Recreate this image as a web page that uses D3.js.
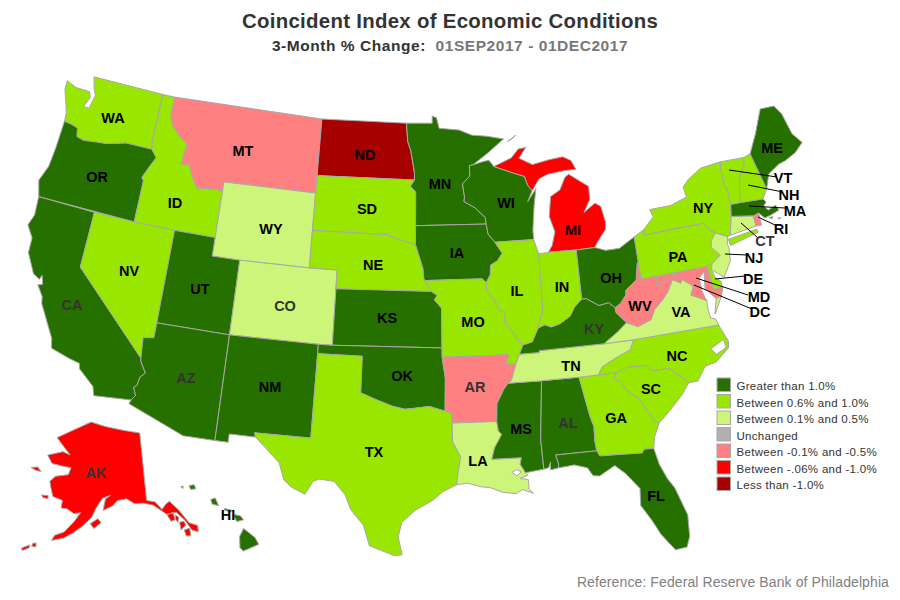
<!DOCTYPE html>
<html>
<head>
<meta charset="utf-8">
<script src="https://cdn.jsdelivr.net/npm/d3@7"></script>
<style>
  body { margin: 0; background: #fff; }
  text { font-family: "Liberation Sans", sans-serif; }
</style>
</head>
<body>
<div id="map"></div>
<script>
// legend bins, top to bottom
const binLabels = ["Greater than 1.0%", "Between 0.6% and 1.0%", "Between 0.1% and 0.5%", "Unchanged",
  "Between -0.1% and -0.5%", "Between -.06% and -1.0%", "Less than -1.0%"];
const binColors = ["#267000", "#99e600", "#ccf57a", "#b0b0b0", "#ff8080", "#ff0000", "#a60000"];

// which bin each state falls in
const binStates = [
  ["OR", "CA", "UT", "AZ", "NM", "KS", "OK", "MN", "IA", "WI", "OH", "KY", "MS", "AL", "FL", "ME", "MA", "HI"],
  ["WA", "ID", "NV", "SD", "NE", "TX", "MO", "IL", "IN", "GA", "SC", "NC", "NY", "PA", "VT", "NH", "DE"],
  ["WY", "CO", "TN", "LA", "VA", "CT", "NJ"],
  [],
  ["MT", "AR", "WV", "MD", "RI", "DC"],
  ["MI", "AK"],
  ["ND"]
];

// shared borders, lon/lat
const stCroix = [[-92.0,46.7],[-92.29,46.66],[-92.29,46.1],[-92.87,45.7],[-92.75,45.0],[-92.8,44.75]];
const missMNWI = [[-92.8,44.75],[-92.0,44.4],[-91.25,43.85],[-91.22,43.5]];
const missIAWI = [[-91.22,43.5],[-91.1,42.95],[-90.64,42.51]];
const missIAIL = [[-90.64,42.51],[-90.15,41.9],[-90.55,41.5],[-91.05,41.3],[-91.1,40.8],[-91.42,40.38]];
const missMOIL = [[-91.42,40.38],[-91.42,39.93],[-90.73,39.25],[-90.65,38.93],[-90.18,38.75],[-90.3,38.2],[-89.9,37.88],[-89.5,37.3],[-89.13,36.98]];
const missMOKY = [[-89.13,36.98],[-89.42,36.5]];
const missMOTN = [[-89.42,36.5],[-89.7,36.0]];
const missARTN = [[-89.7,36.0],[-90.07,35.13],[-90.3,35.0]];
const missARMS = [[-90.3,35.0],[-90.6,34.7],[-91.1,33.95],[-91.17,33.0]];
const missLAMS = [[-91.17,33.0],[-91.1,32.5],[-90.9,32.3],[-91.4,31.6],[-91.6,31.0]];
const ohioILKY = [[-89.13,36.98],[-88.5,37.1],[-88.03,37.8]];
const ohioINKY = [[-88.03,37.8],[-87.55,37.95],[-87.1,37.8],[-86.5,37.93],[-85.75,38.27],[-85.4,38.72],[-84.82,39.1]];
const ohioOHKY = [[-84.82,39.1],[-84.5,39.1],[-83.7,38.65],[-83.0,38.73],[-82.6,38.42]];
const ohioOHWV = [[-82.6,38.42],[-82.2,38.6],[-81.75,39.0],[-81.7,39.25],[-80.87,39.7],[-80.6,40.6],[-80.52,40.64]];
const wabash = [[-87.53,39.35],[-87.6,38.7],[-87.95,38.0],[-88.03,37.8]];
const columbia = [[-116.92,45.99],[-118.98,46.0],[-119.3,45.93],[-120.5,45.7],[-121.2,45.65],[-122.2,45.55],[-122.75,45.65],[-122.9,46.1],[-123.4,46.2],[-124.0,46.25]];
const snake = [[-116.92,45.99],[-116.46,45.6],[-116.85,45.0],[-117.2,44.4],[-117.03,44.25],[-117.03,42.0]];
const bitterroot = [[-116.05,49.0],[-116.05,48.0],[-115.7,47.45],[-114.9,46.9],[-114.35,46.65],[-114.5,45.55],[-113.9,45.6],[-113.45,44.95],[-113.0,44.45],[-111.5,44.55],[-111.05,44.48]];
const colorado = [[-114.63,35.0],[-114.57,34.8],[-114.15,34.27],[-114.45,34.0],[-114.53,33.55],[-114.72,33.4],[-114.5,33.0],[-114.72,32.72]];
const redRiver = [[-100.0,34.56],[-98.9,34.2],[-97.9,33.9],[-97.1,33.75],[-96.5,33.8],[-95.5,33.9],[-94.48,33.64]];
const missouriNEIA = [[-96.45,42.49],[-96.1,41.7],[-95.9,41.2],[-95.85,40.7],[-95.77,40.58]];
const missouriKSMO = [[-95.31,40.0],[-94.9,39.8],[-95.1,39.55],[-94.61,39.11]];
const redNorth = [[-97.23,49.0],[-97.1,48.0],[-96.85,47.5],[-96.55,46.3],[-96.56,45.94]];
const minnSD = [[-96.56,45.94],[-96.85,45.6],[-96.45,45.3],[-96.45,43.5]];
const sabine = [[-94.04,32.0],[-93.55,31.2],[-93.7,30.5],[-93.85,29.7]];
const chattahoochee = [[-85.6,35.0],[-85.18,32.87],[-85.0,32.3],[-85.05,31.55],[-85.0,31.0]];
const savannah = [[-83.1,35.0],[-83.35,34.7],[-82.9,34.48],[-82.6,34.0],[-81.95,33.5],[-81.4,32.6],[-81.1,32.1],[-80.85,32.03]];
const ncsc = [[-83.1,35.0],[-82.4,35.2],[-81.05,35.15],[-80.8,34.82],[-79.67,34.8],[-78.55,33.86]];
const ncTN = [[-81.68,36.59],[-82.0,36.1],[-83.1,35.75],[-84.0,35.4],[-84.32,35.0]];
const kyVA = [[-81.97,37.54],[-82.7,37.1],[-83.68,36.6]];
const wvVA = [[-81.97,37.54],[-81.25,37.25],[-80.3,37.5],[-79.95,38.0],[-79.3,38.42],[-78.87,38.77],[-78.35,39.4],[-77.83,39.13],[-77.72,39.32]];
const potomac = [[-77.72,39.32],[-77.12,38.93],[-77.04,38.8],[-77.3,38.4],[-76.95,38.25],[-76.3,37.95]];
const wvMD = [[-79.48,39.72],[-79.48,39.2],[-78.4,39.6],[-78.2,39.68],[-77.72,39.32]];
const delaware = [[-74.7,41.36],[-75.13,40.98],[-75.2,40.65],[-74.72,40.15],[-75.41,39.8]];
// New England, it sits a little east of true position there
const vtNH = [[-71.35,44.9],[-71.45,44.5],[-71.9,44.1],[-72.15,43.6],[-72.45,42.62]];
const nyVT = [[-73.15,44.98],[-73.25,44.4],[-73.3,43.6],[-73.12,43.55],[-73.14,42.65]];
const meNH = [[-70.8,45.0],[-70.3,42.96]];
const miWI = [[-90.4,46.55],[-89.0,46.15],[-88.1,45.9],[-87.9,45.4],[-87.6,45.1]];

const rev = a => a.slice().reverse();

// state outlines, lon/lat
const outlines = {
  WA: [[[-122.76,49.0],[-117.03,49.0],[-117.04,46.42],...columbia,[-124.05,46.7],[-124.2,47.0],[-124.7,47.9],[-124.73,48.38],[-123.9,48.17],[-123.1,48.17],[-122.75,48.15],[-122.6,47.85],[-122.9,47.3],[-122.45,47.3],[-122.35,47.7],[-122.25,48.05],[-122.5,48.4]]],
  OR: [[...snake,[-124.2,42.0],[-124.55,42.84],[-124.15,43.7],[-124.05,44.7],...rev(columbia).slice(0,-1)]],
  CA: [[[-124.2,42.0],[-120.0,42.0],[-120.0,39.0],...colorado,[-117.12,32.53],[-117.3,33.0],[-118.4,33.75],[-118.5,34.03],[-119.2,34.15],[-120.5,34.45],[-120.65,34.95],[-121.9,36.6],[-122.0,36.96],[-122.5,37.5],[-122.2,37.6],[-122.4,38.05],[-122.5,37.8],[-123.0,38.0],[-123.75,39.0],[-123.8,39.8],[-124.35,40.4],[-124.1,41.0]]],
  NV: [[[-120.0,42.0],[-117.03,42.0],[-114.04,42.0],[-114.04,37.0],[-114.04,36.2],[-114.75,36.1],[-114.63,35.0],[-120.0,39.0]]],
  ID: [[[-117.03,49.0],...bitterroot,[-111.05,42.0],[-114.04,42.0],...rev(snake),[-117.04,46.42]]],
  MT: [[...bitterroot,[-111.05,45.0],[-104.05,45.0],[-104.05,45.94],[-104.05,49.0]]],
  WY: [[[-111.05,45.0],[-104.05,45.0],[-104.05,43.0],[-104.05,41.0],[-109.05,41.0],[-111.05,41.0],[-111.05,42.0],[-111.05,44.48]]],
  UT: [[[-114.04,42.0],[-111.05,42.0],[-111.05,41.0],[-109.05,41.0],[-109.05,37.0],[-114.04,37.0]]],
  AZ: [[[-114.04,37.0],[-109.05,37.0],[-109.05,31.33],[-111.07,31.33],[-114.81,32.5],...rev(colorado),[-114.75,36.1],[-114.04,36.2]]],
  CO: [[[-109.05,41.0],[-104.05,41.0],[-102.05,41.0],[-102.05,40.0],[-102.05,37.0],[-103.0,37.0],[-109.05,37.0]]],
  NM: [[[-109.05,37.0],[-103.0,37.0],[-103.0,36.5],[-103.04,32.0],[-106.62,32.0],[-106.53,31.78],[-108.21,31.78],[-108.21,31.33],[-109.05,31.33]]],
  ND: [[[-104.05,49.0],...redNorth,[-104.05,45.94]]],
  SD: [[[-104.05,45.94],...minnSD,[-96.45,42.49],[-97.9,42.8],[-98.5,43.0],[-104.05,43.0]]],
  NE: [[[-104.05,43.0],[-98.5,43.0],[-97.9,42.8],...missouriNEIA,[-95.31,40.0],[-102.05,40.0],[-102.05,41.0],[-104.05,41.0]]],
  KS: [[[-102.05,40.0],...missouriKSMO,[-94.62,37.0],[-102.05,37.0]]],
  OK: [[[-103.0,37.0],[-102.05,37.0],[-94.62,37.0],[-94.62,36.5],[-94.43,35.4],[-94.48,33.64],...rev(redRiver),[-100.0,36.5],[-103.0,36.5]]],
  TX: [[[-103.0,36.5],[-100.0,36.5],...redRiver,[-94.04,33.55],[-94.04,33.0],...sabine,[-94.7,29.35],[-95.3,28.9],[-96.4,28.35],[-97.2,27.7],[-97.4,26.9],[-97.15,25.96],[-97.6,25.9],[-99.1,26.4],[-99.5,27.5],[-100.3,28.3],[-100.7,29.1],[-101.4,29.77],[-102.35,29.85],[-102.7,29.7],[-103.15,28.98],[-104.0,29.3],[-104.5,29.65],[-104.9,30.55],[-106.53,31.78],[-106.62,32.0],[-103.04,32.0]]],
  MN: [[[-97.23,49.0],[-95.15,49.0],[-95.15,49.38],[-94.8,49.3],[-94.6,48.72],[-93.0,48.6],[-92.0,48.3],[-90.8,48.2],[-89.5,48.0],[-90.8,47.3],...stCroix,...missMNWI,[-96.45,43.5],...rev(minnSD),...rev(redNorth).slice(1)]],
  IA: [[[-96.45,43.5],[-91.22,43.5],...missIAWI,...missIAIL,[-91.7,40.6],...rev(missouriNEIA)]],
  MO: [[[-95.77,40.58],[-91.7,40.6],...missMOIL,...missMOKY,...missMOTN,[-90.37,36.0],[-90.15,36.5],[-94.62,36.5],[-94.62,37.0],...rev(missouriKSMO)]],
  AR: [[[-94.62,36.5],[-90.15,36.5],[-90.37,36.0],...missARTN,...missARMS,[-94.04,33.0],[-94.04,33.55],[-94.48,33.64],[-94.43,35.4]]],
  LA: [[[-94.04,33.0],...missLAMS,[-89.75,31.0],[-89.85,30.65],[-89.55,30.18],[-89.4,30.05],[-89.9,29.9],[-89.4,29.8],[-89.4,29.3],[-89.15,29.05],[-89.8,29.3],[-90.2,29.1],[-91.0,29.2],[-91.8,29.5],[-92.3,29.55],[-93.2,29.78],...rev(sabine)],
       [[-90.4,30.25],[-90.1,30.38],[-89.8,30.25],[-90.1,30.05]]],
  MS: [[...missARMS.slice(0,1),[-88.2,35.0],[-88.1,34.9],[-88.45,31.9],[-88.4,30.3],[-89.55,30.18],[-89.85,30.65],[-89.75,31.0],...rev(missLAMS),...rev(missARMS).slice(1)]],
  AL: [[[-88.2,35.0],...chattahoochee,[-87.6,31.0],[-87.45,30.5],[-87.5,30.3],[-88.0,30.23],[-87.95,30.65],[-88.1,30.35],[-88.4,30.3],[-88.45,31.9],[-88.1,34.9]]],
  GA: [[[-85.6,35.0],[-84.32,35.0],...savannah,[-81.3,31.3],[-81.45,30.72],[-82.05,30.75],[-82.2,30.57],[-84.86,30.71],...rev(chattahoochee).slice(0,-1)]],
  FL: [[[-87.6,31.0],[-85.0,31.0],[-84.86,30.71],[-82.2,30.57],[-82.05,30.75],[-81.45,30.72],[-81.25,29.8],[-80.9,29.0],[-80.55,28.45],[-80.05,26.9],[-80.15,25.75],[-80.4,25.2],[-81.1,25.15],[-81.8,26.1],[-82.2,26.9],[-82.75,27.8],[-82.65,28.7],[-83.4,29.6],[-84.0,30.1],[-85.0,29.65],[-85.4,29.7],[-85.7,30.15],[-86.5,30.38],[-87.5,30.3],[-87.45,30.5]]],
  SC: [[...ncsc,[-79.1,33.3],[-79.9,32.7],[-80.45,32.3],...rev(savannah).slice(0,-1)]],
  NC: [[[-84.32,35.0],[-83.1,35.0],...ncsc.slice(1),[-77.95,33.85],[-77.3,34.55],[-76.55,34.65],[-75.55,35.25],[-75.45,35.6],[-75.87,36.55],...ncTN],
       [[-76.7,35.4],[-75.75,35.75],[-75.7,35.3],[-76.4,35.05]]],
  TN: [[[-90.3,35.0],[-88.2,35.0],[-85.6,35.0],[-84.32,35.0],...rev(ncTN),[-83.68,36.6],[-88.07,36.6],[-88.07,36.5],[-89.42,36.5],...missMOTN.slice(1),...missARTN.slice(1)]],
  KY: [[...ohioILKY,...ohioINKY.slice(1),...ohioOHKY.slice(1),[-82.6,38.17],...kyVA,[-88.07,36.6],[-88.07,36.5],[-89.42,36.5]]],
  VA: [[[-83.68,36.6],...rev(kyVA),...wvVA,...potomac,[-76.35,37.55],[-76.3,37.0],[-75.98,36.9],[-75.87,36.55],[-81.68,36.59]],
       [[-75.95,37.15],[-75.25,38.03],[-75.65,37.95]]],
  WV: [[...ohioOHWV,[-80.52,39.72],...wvMD,...rev(wvVA),[-82.6,38.17]]],
  MD: [[[-79.48,39.72],[-75.79,39.72],[-75.7,38.46],[-75.05,38.45],[-75.25,38.03],[-75.65,37.95],[-75.9,38.2],[-76.25,38.6],[-76.15,39.1],[-76.05,39.5],[-76.5,39.2],[-76.5,38.5],[-76.4,38.15],...rev(potomac),...rev(wvMD).slice(1,-1)]],
  DC: [[[-77.12,38.93],[-77.04,39.0],[-76.91,38.89],[-77.04,38.8]]],
  DE: [[[-75.79,39.72],[-75.41,39.8],[-75.55,39.5],[-75.4,39.05],[-75.08,38.8],[-75.05,38.45],[-75.7,38.46]]],
  PA: [[[-80.52,41.98],[-79.76,42.27],[-79.76,42.0],[-75.35,42.0],[-75.05,41.6],...delaware,[-75.79,39.72],[-79.48,39.72],[-80.52,39.72],[-80.52,40.64]]],
  NJ: [[[-74.7,41.36],[-73.9,41.02],[-74.05,40.65],[-74.0,40.45],[-74.1,39.75],[-74.8,38.95],[-75.1,39.2],[-75.55,39.5],[-75.41,39.8],...rev(delaware).slice(1,-1)]],
  NY: [[[-79.76,42.27],[-78.9,42.85],[-79.05,43.27],[-77.5,43.28],[-76.2,43.55],[-76.3,44.1],[-75.8,44.45],[-74.7,44.9],...nyVT,[-73.32,42.02],[-73.6,41.3],[-73.7,41.05],[-73.9,41.02],[-74.7,41.36],[-75.05,41.6],[-75.35,42.0],[-79.76,42.0]],
       [[-73.9,40.87],[-71.75,41.03],[-71.7,40.86],[-73.85,40.52]]],
  CT: [[[-73.32,42.02],[-71.75,41.76],[-71.75,41.2],[-73.7,41.05],[-73.6,41.3]]],
  RI: [[[-71.75,41.76],[-71.33,41.84],[-71.35,41.18],[-71.75,41.2]]],
  MA: [[[-73.32,42.02],[-73.14,42.65],[-72.45,42.62],[-70.75,42.5],[-70.6,42.3],[-70.84,42.12],[-70.6,41.85],[-70.0,42.0],[-69.85,41.7],[-70.55,41.55],[-71.0,41.5],[-71.33,41.84],[-71.75,41.76]],
       [[-70.7,41.45],[-70.4,41.45],[-70.5,41.35]],[[-70.1,41.3],[-69.87,41.28],[-70.0,41.24]]],
  VT: [[...nyVT.slice(0,1),...vtNH,[-73.14,42.65],...rev(nyVT).slice(1,-1)]],
  NH: [[...meNH,[-70.75,42.5],...rev(vtNH)]],
  ME: [[[-70.8,45.0],[-70.0,45.96],[-69.12,47.17],[-68.04,47.11],[-67.62,46.58],[-67.32,45.41],[-66.78,44.8],[-67.5,44.39],[-68.4,44.13],[-68.95,44.05],[-69.85,43.7],[-70.3,42.96]]],
  MI: [[[-86.82,41.76],[-84.8,41.72],[-83.45,41.73],[-83.15,42.05],[-82.5,42.6],[-82.42,43.0],[-82.6,43.85],[-83.0,44.07],[-83.9,43.65],[-83.35,44.3],[-83.3,45.0],[-84.7,45.78],[-85.0,45.65],[-85.5,45.0],[-86.25,44.7],[-86.5,43.65],[-86.2,42.8],[-86.5,42.1]],
       [...miWI,[-87.0,45.7],[-86.3,45.9],[-85.0,46.0],[-84.1,46.0],[-84.4,46.5],[-85.0,46.75],[-86.1,46.67],[-87.4,46.5],[-88.4,46.9],[-87.8,47.45],[-88.4,47.4],[-89.0,46.95]],
       [[-89.2,47.85],[-88.5,48.15],[-88.9,47.95]]],
  WI: [[[-92.0,46.7],[-91.2,46.85],[-90.75,46.9],...miWI,[-88.0,44.55],[-87.3,45.2],[-87.55,44.3],[-87.8,43.0],[-87.8,42.5],...rev(missIAWI),...rev(missMNWI),...rev(stCroix).slice(1,-1)]],
  IL: [[[-90.64,42.51],[-87.8,42.5],[-87.53,41.72],...wabash,...rev(ohioILKY).slice(1),...rev(missMOIL).slice(1),...rev(missIAIL).slice(1,-1)]],
  IN: [[[-87.53,41.72],[-86.82,41.76],[-84.8,41.72],[-84.82,39.1],...rev(ohioINKY).slice(1),...rev(wabash).slice(1,-1)]],
  OH: [[[-84.8,41.72],[-83.45,41.73],[-82.7,41.5],[-81.7,41.5],[-80.52,41.98],[-80.52,40.64],...rev(ohioOHWV).slice(1),...rev(ohioOHKY).slice(1)]],
  AK: [[[-141.0,69.65],[-141.0,60.3],[-139.0,60.0],[-137.5,58.9],[-136.5,59.45],[-135.4,59.8],[-133.5,58.4],[-131.8,56.6],[-130.0,56.0],[-130.2,55.2],[-131.5,55.6],[-132.6,57.0],[-134.2,58.2],[-136.6,58.2],[-139.5,59.6],[-142.0,60.0],[-144.0,60.0],[-146.0,60.7],[-148.3,60.5],[-149.5,59.8],[-151.8,59.2],[-151.3,60.7],[-150.0,61.2],[-152.0,60.8],[-153.5,59.5],[-154.5,58.2],[-156.5,57.0],[-158.5,56.0],[-160.5,55.2],[-163.0,54.7],[-162.5,55.4],[-160.5,56.0],[-158.5,57.5],[-157.2,58.7],[-158.8,58.5],[-160.5,59.0],[-162.0,59.0],[-162.0,60.0],[-164.5,60.3],[-165.5,61.5],[-166.0,62.2],[-164.8,63.0],[-161.5,63.5],[-161.0,64.5],[-163.0,64.5],[-166.4,64.6],[-168.1,65.6],[-164.0,66.5],[-161.8,66.2],[-163.8,67.1],[-166.5,68.3],[-163.0,69.5],[-156.6,71.35],[-152.0,70.8],[-146.0,70.2]],
       [[-154.7,57.4],[-153.0,58.1],[-152.2,57.6],[-153.8,56.8]],
       [[-171.7,63.4],[-170.0,63.7],[-168.8,63.2],[-170.3,63.2]],
       [[-167.3,60.2],[-165.7,60.3],[-165.6,59.9],[-166.9,59.9]],
       [[-136.5,58.1],[-135.0,58.3],[-134.8,57.3],[-135.8,57.2]],
       [[-134.5,57.9],[-133.9,57.5],[-134.3,56.9],[-134.7,57.4]],
       [[-133.9,56.9],[-132.9,56.9],[-132.6,56.4],[-133.9,55.9]],
       [[-133.2,55.8],[-131.9,55.9],[-132.0,54.9],[-133.0,55.0]],
       [[-166.9,53.9],[-166.2,54.0],[-166.1,53.5],[-167.0,53.5]],
       [[-169.0,53.0],[-167.5,53.6],[-167.5,53.2],[-168.8,52.7]]],
  HI: [[[-155.9,20.25],[-155.1,19.85],[-154.8,19.5],[-155.65,18.95],[-155.9,19.1],[-156.05,19.75]],
       [[-156.7,20.95],[-156.25,20.95],[-156.0,20.75],[-156.4,20.58]],
       [[-157.3,21.2],[-156.75,21.17],[-156.9,21.05],[-157.3,21.1]],
       [[-158.25,21.55],[-158.0,21.7],[-157.7,21.3],[-158.1,21.3]],
       [[-159.75,22.1],[-159.45,22.22],[-159.3,22.0],[-159.6,21.9]],
       [[-160.25,21.95],[-160.1,22.0],[-160.1,21.85]]]
};

// text labels
const darkLabels = ["CA", "AZ", "CO", "AR", "AL", "AK", "KY", "CT"];
const labelAt = {
  WA:[113,118], OR:[97,177], CA:[72,305], NV:[129,271], ID:[175,203], MT:[243,151], WY:[271,229], UT:[200,289],
  AZ:[186,378], CO:[285,306], NM:[270,387], ND:[365,155], SD:[367,209], NE:[373,265], KS:[387,318], OK:[402,376],
  TX:[374,452], MN:[440,184], IA:[457,253], MO:[473,322], AR:[475,387], LA:[478,461], WI:[506,203], IL:[517,291],
  IN:[562,287], MI:[573,230], OH:[611,278], KY:[594,329], TN:[571,366], MS:[521,429], AL:[568,423], GA:[616,418],
  FL:[656,496], SC:[651,389], NC:[677,356], VA:[681,312], WV:[640,306], PA:[678,257], NY:[703,208], ME:[772,148],
  AK:[96,473], HI:[228,515], VT:[783,178], NH:[789,195], MA:[795,211], RI:[781,229], CT:[765,241], NJ:[754,258],
  DE:[753,279], MD:[759,297], DC:[760,312]
};
// leader lines for the small eastern states
const leaders = {
  VT:[[729,170],[777,177]], NH:[[748,185],[783,192]], MA:[[749,206],[785,208]], RI:[[758,217],[775,225]],
  CT:[[741,223],[757,237]], NJ:[[725,254],[747,255]], DE:[[715,279],[745,276]], MD:[[696,278],[748,295]], DC:[[694,285],[752,309]]
};

const width = 900;
const height = 600;

const svg = d3.select("#map").append("svg")
  .attr("width", width)
  .attr("height", height);

// lower 48, plus Alaska and Hawaii as insets
const lower48 = d3.geoAlbers().scale(1070).translate([413, 316]);
const alaska = d3.geoConicEqualArea().rotate([155, 0]).center([0, 63]).parallels([35, 55]).scale(450).angle(-4).translate([92, 481]);
const hawaii = d3.geoConicEqualArea().rotate([157, 0]).center([0, 20.5]).parallels([8, 18]).scale(980).angle(-11).translate([227, 521]);
const projectionFor = code => code === "AK" ? alaska : code === "HI" ? hawaii : lower48;

const fillOf = {};
binStates.forEach((codes, i) => codes.forEach(c => { fillOf[c] = binColors[i]; }));

const line = d3.line();
const statePath = code => {
  const proj = projectionFor(code);
  return outlines[code].map(ring => line(ring.map(p => proj(p))) + "Z").join("");
};

svg.append("g").selectAll("path")
  .data(Object.keys(outlines))
  .join("path")
  .attr("d", statePath)
  .attr("fill", d => fillOf[d])
  .attr("fill-rule", "evenodd")
  .attr("stroke", "#a8a8a8")
  .attr("stroke-width", 1)
  .attr("stroke-linejoin", "round");

// leader lines
svg.append("g").selectAll("line")
  .data(Object.keys(leaders))
  .join("line")
  .attr("x1", d => leaders[d][0][0])
  .attr("y1", d => leaders[d][0][1])
  .attr("x2", d => leaders[d][1][0])
  .attr("y2", d => leaders[d][1][1])
  .attr("stroke", "#000")
  .attr("stroke-width", 1);

// state labels
svg.append("g").selectAll("text")
  .data(Object.keys(labelAt))
  .join("text")
  .attr("x", d => labelAt[d][0])
  .attr("y", d => labelAt[d][1])
  .attr("text-anchor", "middle")
  .attr("dominant-baseline", "central")
  .style("font-size", "14.5px")
  .style("font-weight", "bold")
  .attr("fill", d => darkLabels.includes(d) ? "#333" : "#000")
  .text(d => d);

// titles
svg.append("text")
  .attr("x", 450).attr("y", 28)
  .attr("text-anchor", "middle")
  .style("font-size", "20.4px").style("font-weight", "bold")
  .style("letter-spacing", "0.3px")
  .attr("fill", "#333")
  .text("Coincident Index of Economic Conditions");

const sub = svg.append("text")
  .attr("x", 450).attr("y", 51)
  .attr("text-anchor", "middle")
  .style("font-size", "15.5px").style("font-weight", "bold")
  .style("white-space", "pre")
  .style("letter-spacing", "0.55px");
sub.append("tspan").attr("fill", "#333").text("3-Month % Change:  ");
sub.append("tspan").attr("fill", "#777").text("01SEP2017 - 01DEC2017");

// legend
const legendY = d3.scalePoint().domain(binLabels).range([378, 477]);
const legend = svg.append("g").selectAll("g")
  .data(binLabels)
  .join("g")
  .attr("transform", d => `translate(717,${legendY(d)})`);
legend.append("rect")
  .attr("width", 13.5).attr("height", 13.5)
  .attr("fill", (d, i) => binColors[i])
  .attr("stroke", "#a8a8a8");
legend.append("text")
  .attr("x", 19.5).attr("y", 8)
  .attr("dominant-baseline", "central")
  .style("font-size", "11.5px")
  .style("letter-spacing", "0.3px")
  .attr("fill", "#333")
  .text(d => d);

// source
svg.append("text")
  .attr("x", 889).attr("y", 587)
  .attr("text-anchor", "end")
  .style("font-size", "14px")
  .style("letter-spacing", "0.1px")
  .attr("fill", "#808080")
  .text("Reference: Federal Reserve Bank of Philadelphia");
</script>
</body>
</html>
